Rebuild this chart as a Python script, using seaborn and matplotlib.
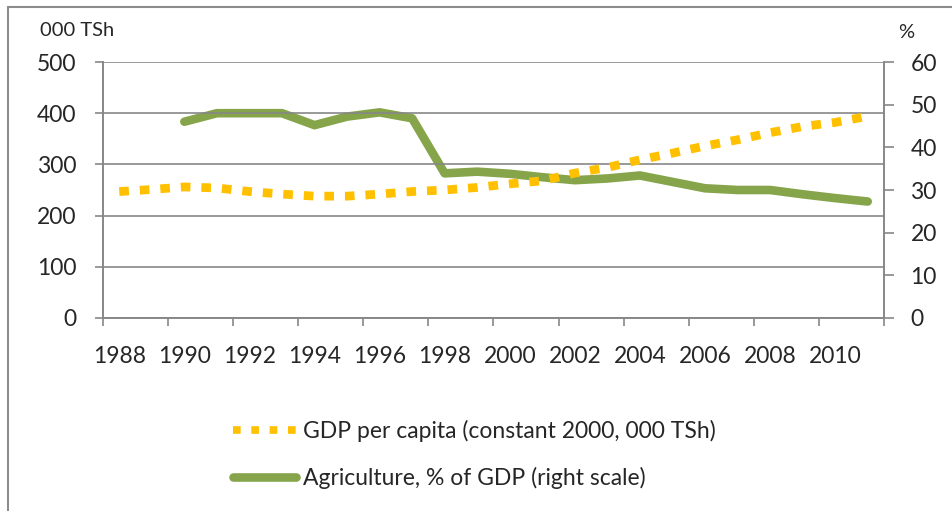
import matplotlib
matplotlib.use("Agg")
import matplotlib.pyplot as plt
from matplotlib.lines import Line2D
import numpy as np
import pandas as pd
import seaborn as sns

years = list(range(1988, 2012))
gdp_per_capita = [247, 251, 256, 254, 247, 242, 238, 238, 242, 247, 250, 255,
                  262, 268, 283, 294, 309, 322, 336, 348, 362, 374, 382, 394]
agri_share = [np.nan, np.nan, 46.0, 48.0, 48.0, 48.0, 45.2, 47.2, 48.2, 46.8, 33.9, 34.3,
              33.8, 33.0, 32.3, 32.7, 33.4, 31.9, 30.4, 30.0, 30.0, 29.0, 28.1, 27.3]
tick_years = list(range(1988, 2011, 2))
left_ticks = [0, 100, 200, 300, 400, 500]
right_ticks = [0, 10, 20, 30, 40, 50, 60]
gdp_label = "GDP per capita (constant 2000, 000 TSh)"
agri_label = "Agriculture, % of GDP (right scale)"

sns.set_style("white")
plt.rcParams['font.family'] = ['Lato', 'DejaVu Sans']

df = pd.DataFrame({"pos": np.arange(len(years)), "year": years,
                   "gdp": gdp_per_capita, "agri": agri_share})

W, H = 953, 511
fig = plt.figure(figsize=(W / 100, H / 100), dpi=100)
ax = fig.add_axes([103 / W, 1 - 318 / H, (884 - 103) / W, (318 - 62) / H])
ax2 = ax.twinx()

YELLOW = "#FFC000"
GREEN = "#86A54A"
GREY = "#878787"
FS = 16.5

sns.lineplot(data=df, x="pos", y="gdp", ax=ax, color=YELLOW, linewidth=6.3,
             linestyle=(0, (1.1, 1.25)), dash_capstyle="butt", zorder=3)
sns.lineplot(data=df, x="pos", y="agri", ax=ax2, color=GREEN, linewidth=6.2,
             solid_capstyle="round", solid_joinstyle="round", zorder=3)

ax.set_xlim(-0.5, len(years) - 0.5)
ax.set_ylim(0, 500)
ax2.set_ylim(0, 60)
ax.set_xlabel("")
ax.set_ylabel("")
ax2.set_ylabel("")

# category axis: tick marks between categories every 2, labels at category centres
ax.set_xticks(np.arange(-0.5, len(years), 2))
ax.set_xticklabels([])
label_pos = [years.index(y) for y in tick_years]
ax.set_xticks(label_pos, minor=True)
ax.set_xticklabels([str(y) for y in tick_years], minor=True)
ax.tick_params(axis="x", which="major", length=6, width=1.2, color=GREY, direction="out", bottom=True)
ax.tick_params(axis="x", which="minor", length=0, pad=20, labelsize=FS)

ax.set_yticks(left_ticks)
ax.set_yticklabels([str(v) for v in left_ticks])
ax.tick_params(axis="y", length=6, width=1.2, color=GREY, direction="out", left=True, pad=13, labelsize=FS)
ax2.set_yticks(right_ticks)
ax2.set_yticklabels([str(v) for v in right_ticks])
ax2.tick_params(axis="y", length=7, width=1.2, color=GREY, direction="out", right=True, pad=12, labelsize=FS)

ax.grid(axis="y", color=GREY, linewidth=1.2)
ax.grid(axis="x", visible=False)
ax2.grid(False)
for a in (ax, ax2):
    a.spines["top"].set_visible(False)
    for s in ("left", "right", "bottom"):
        a.spines[s].set_color(GREY)
        a.spines[s].set_linewidth(1.2)
ax.set_axisbelow(True)
ax.set_zorder(ax2.get_zorder() + 1)
ax.patch.set_visible(False)

fig.text(40 / W, 1 - 30 / H, "000 TSh", ha="left", va="center", fontsize=14.5)
fig.text(906 / W, 1 - 32 / H, "%", ha="center", va="center", fontsize=14.5)

# chart border (left and top edges)
fig.add_artist(Line2D([8 / W, 8 / W], [0, 1 - 7 / H], transform=fig.transFigure, color="#8C8C8C", linewidth=1.5))
fig.add_artist(Line2D([8 / W, 1], [1 - 7 / H, 1 - 7 / H], transform=fig.transFigure, color="#8C8C8C", linewidth=1.5))

handles = [Line2D([], [], color=YELLOW, linewidth=5.5, linestyle=(0, (1.0, 1.4)), dash_capstyle="butt"),
           Line2D([], [], color=GREEN, linewidth=6.2, solid_capstyle="round")]
fig.legend(handles, [gdp_label, agri_label], loc="upper left",
           bbox_to_anchor=(233 / W, 1 - 420 / H), frameon=False, fontsize=FS,
           handlelength=2.75, handletextpad=0.3, labelspacing=1.08, borderpad=0, borderaxespad=0)

fig.savefig("out.png", dpi=100)
